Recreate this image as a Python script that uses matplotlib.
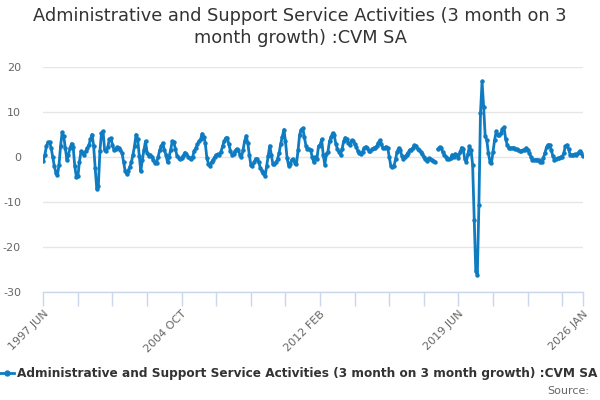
import numpy as np
import pandas as pd
import matplotlib
matplotlib.use("Agg")
import matplotlib.pyplot as plt
from matplotlib.lines import Line2D

title = "Administrative and Support Service Activities (3 month on 3\nmonth growth) :CVM SA"
series_name = "Administrative and Support Service Activities (3 month on 3 month growth) :CVM SA"

months = [p.strftime("%Y %b").upper() for p in pd.period_range("1997-06", periods=344, freq="M")]

values_1997_2004 = [
    -0.8, 0.5, 2.4, 3.3, 3.3, 2.0, 0.0, -2.0, -3.5, -4.1,
    -1.7, 2.5, 5.5, 4.6, 2.0, -0.6, 0.5, 2.0, 3.0, 2.2,
    -2.0, -4.4, -4.3, -1.0, 1.3, 0.9, 0.5, 1.3, 2.0, 2.7,
    3.9, 5.0, 2.5, -2.5, -7.1, -6.5, 1.3, 5.3, 5.7, 1.6,
    1.3, 2.2, 3.9, 4.2, 2.7, 1.5, 1.8, 2.2, 2.0, 1.5,
    1.0, -1.0, -3.0, -3.8, -3.0, -2.2, -1.2, 0.5, 2.4, 5.0,
    4.0, 0.3, -3.2, -0.6, 1.6, 3.5, 1.0, 0.3, 0.5, 0.1,
    -0.6, -1.3, -1.3, 0.0, 1.5, 2.4, 3.1, 1.5, 0.5, -1.2,
    0.1, 1.6, 3.5, 3.3, 1.8, 0.3, -0.2, -0.4,
]
values_2004_2012 = [
    -0.3, 0.3, 1.0, 0.6, 0.1, -0.3, -0.4, 0.1, 1.4, 2.0,
    2.8, 3.5, 3.9, 5.2, 4.5, 3.1, -0.2, -1.5, -1.9, -1.1,
    -0.6, 0.0, 0.5, 0.6, 0.5, 1.2, 2.4, 3.5, 4.2, 4.3,
    2.8, 1.3, 0.5, 0.6, 1.3, 1.8, 1.6, 0.5, -0.1, 1.5,
    3.5, 4.7, 3.2, 0.5, -1.8, -2.0, -1.2, -0.4, -0.4, -1.2,
    -2.4, -3.0, -3.6, -4.3, -2.1, 0.3, 2.5, 0.5, -1.6, -1.5,
    -1.2, -0.4, 1.0, 3.0, 4.5, 6.1, 3.5, -0.2, -1.9, -1.5,
    -0.6, -0.5, -1.3, -1.5, 1.5, 5.0, 6.1, 6.4, 4.5, 2.5,
    1.8, 1.8, 1.5, 0.0, -1.2, 0.0, -0.4, 2.4, 2.7,
]
values_2012_2019 = [
    3.9, 0.5, -1.7, 0.6, 1.2, 3.5, 4.5, 5.3, 4.8, 3.0,
    1.8, 1.2, 0.5, 1.8, 3.5, 4.3, 4.0, 3.1, 2.7, 3.7,
    3.5, 2.8, 2.3, 1.3, 0.8, 0.7, 1.2, 2.0, 2.3, 2.0,
    1.4, 1.3, 1.7, 2.0, 2.0, 2.4, 3.1, 3.7, 2.9, 1.9,
    2.0, 2.3, 2.0, 0.0, -2.0, -2.2, -2.0, -0.5, 1.2, 2.0,
    1.5, 0.3, -0.4, 0.1, 0.5, 1.0, 1.6, 1.5, 2.1, 2.6,
    2.5, 1.8, 1.6, 1.2, 0.7, 0.0, -0.4, -0.8, -0.3, -0.4,
    -0.6, -0.8, -1.0, np.nan, 1.8, 2.2, 2.0, 1.1, 0.5, 0.1,
    -0.4, -0.4, -0.3, 0.5, 0.0, 0.7,
]
values_2019_2022 = [
    0.5, -0.2, 1.1, 2.1, 1.8, -0.4, -1.1, 0.6, 2.4, 1.5,
    -1.7, -13.9, -25.4, -26.2, -10.6, 9.8, 16.8, 11.2, 4.6, 3.8,
    0.9, -1.0, -1.3, 1.2, 3.8, 5.7, 5.0, 4.8, 5.3, 6.2,
    6.6, 4.0, 2.7, 2.0,
]
values_2022_2026 = [
    2.0, 2.0, 2.1, 1.8, 1.7, 1.5, 1.3, 1.3, 1.5, 1.6,
    2.0, 1.6, 1.0, 0.1, -0.6, -0.6, -0.6, -0.6, -0.7, -1.0,
    -1.2, -0.2, 0.9, 2.2, 2.7, 2.7, 1.5, 0.3, -0.6, -0.4,
    -0.3, -0.2, 0.0, 0.1, 0.9, 2.4, 2.7, 1.8, 0.5, 0.5,
    0.5, 0.6, 0.5, 0.8, 1.3, 1.0, 0.2,
]
values = (values_1997_2004 + values_2004_2012 + values_2012_2019
          + values_2019_2022 + values_2022_2026)
assert len(values) == len(months), (len(values), len(months))

y_ticks = [-30, -20, -10, 0, 10, 20]
label_months = ["1997 JUN", "2004 OCT", "2012 FEB", "2019 JUN", "2026 JAN"]

line_color = "#0f7cc1"
axis_color = "#ccd6eb"
grid_color = "#e6e6e6"
text_color = "#666666"

plt.rcParams["font.family"] = ["DejaVu Sans"]
fig = plt.figure(figsize=(6, 4), dpi=100)
W, H = 600, 400
ax = fig.add_axes([43.3 / W, 1 - 292 / H, (582.7 - 43.3) / W, (292 - 67) / H])

x = np.arange(len(values))
ax.plot(x, values, color=line_color, lw=2, marker="o", ms=3.2, mew=0, zorder=3)

ax.set_xlim(0, len(values) - 1)
ax.set_ylim(-30, 20)
ax.set_yticks(y_ticks)
ax.set_yticklabels([str(t) for t in y_ticks])
ax.tick_params(axis="y", length=0, pad=16, labelsize=8, labelcolor=text_color)
ax.grid(axis="y", color=grid_color, lw=1)
ax.set_axisbelow(True)

tick_pos = list(range(0, len(values), 22)) + [len(values) - 1]
labels = []
for p in tick_pos:
    labels.append(months[p] if months[p] in label_months else "")
ax.set_xticks(tick_pos)
ax.set_xticklabels(labels, rotation=45, ha="right", rotation_mode="anchor")
ax.tick_params(axis="x", length=10, width=1, color=axis_color, pad=2,
               labelsize=8, labelcolor=text_color)

for s in ["top", "right", "left"]:
    ax.spines[s].set_visible(False)
ax.spines["bottom"].set_color(axis_color)
ax.spines["bottom"].set_linewidth(1)

fig.text(0.5, 1 - 7 / H, title, ha="center", va="top", fontsize=12.8,
         color="#333333", linespacing=1.3)

ly = 1 - 373 / H
fig.add_artist(Line2D([0 / W, 14 / W], [ly, ly], color=line_color, lw=2,
                      transform=fig.transFigure))
fig.add_artist(Line2D([7 / W], [ly], color=line_color, marker="o", ms=3.5,
                      transform=fig.transFigure))
fig.text(17 / W, ly, series_name, ha="left", va="center", fontsize=8.7,
         fontweight="bold", color="#333333")
fig.text(589 / W, 1 - 391 / H, "Source:", ha="right", va="center",
         fontsize=8, color=text_color)

fig.savefig("out.png", dpi=100)
